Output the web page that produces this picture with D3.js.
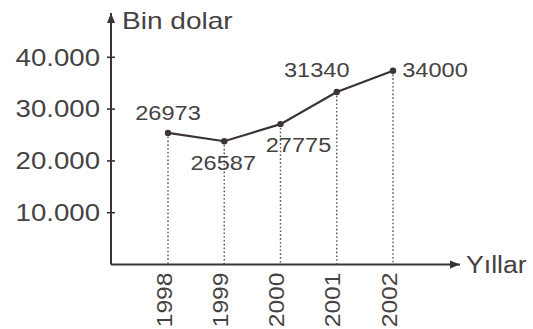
<!DOCTYPE html>
<html>
<head>
<meta charset="utf-8">
<script src="https://cdn.jsdelivr.net/npm/d3@7"></script>
<style>
  html, body { margin: 0; padding: 0; background: #fff; }
  svg { display: block; }
  text { font-family: "Liberation Sans", Arial, sans-serif; fill: #464243; }
</style>
</head>
<body>
<svg id="chart" width="533" height="329"></svg>
<script>
// Data
const years = [1998, 1999, 2000, 2001, 2002];
const printedValues = ["26973", "26587", "27775", "31340", "34000"];
const plottedValues = [25400, 23800, 27100, 33300, 37400];
const yTicks = [10000, 20000, 30000, 40000];
const yTickLabels = ["10.000", "20.000", "30.000", "40.000"];
const yTitle = "Bin dolar";
const xTitle = "Yıllar";

const svg = d3.select("#chart");
const ink = "#3b3337";

const x = d3.scaleLinear().domain([1998, 2002]).range([168, 393]);
const y = d3.scaleLinear().domain([0, 40000]).range([264.5, 57.3]);
const x0 = 111;

// Axes lines
svg.append("defs").append("marker")
  .attr("id", "arr").attr("viewBox", "0 0 10 10")
  .attr("refX", 10).attr("refY", 5)
  .attr("markerWidth", 10).attr("markerHeight", 10)
  .attr("markerUnits", "userSpaceOnUse")
  .attr("orient", "auto")
  .append("path").attr("d", "M0,1 L10,5 L0,9 Z").attr("fill", ink);

svg.append("line")
  .attr("x1", x0).attr("y1", y(0)).attr("x2", x0).attr("y2", 13)
  .attr("stroke", ink).attr("stroke-width", 2).attr("marker-end", "url(#arr)");
svg.append("line")
  .attr("x1", x0).attr("y1", y(0)).attr("x2", 460).attr("y2", y(0))
  .attr("stroke", ink).attr("stroke-width", 2).attr("marker-end", "url(#arr)");

// y ticks
yTicks.forEach((t, i) => {
  svg.append("line")
    .attr("x1", x0 - 4).attr("x2", x0 + 4)
    .attr("y1", y(t)).attr("y2", y(t))
    .attr("stroke", ink).attr("stroke-width", 1.6);
  svg.append("text")
    .attr("transform", `translate(${x0 - 11},${y(t)}) scale(1.2,1)`)
    .attr("text-anchor", "end").attr("dy", "0.36em")
    .attr("font-size", 23)
    .text(yTickLabels[i]);
});

// titles
svg.append("text")
  .attr("transform", `translate(122,29) scale(1.22,1)`)
  .attr("font-size", 23).text(yTitle);
svg.append("text")
  .attr("transform", `translate(466,${y(0) + 8}) scale(1.16,1)`)
  .attr("font-size", 23).text(xTitle);

// dotted drop lines
years.forEach((yr, i) => {
  svg.append("line")
    .attr("x1", x(yr)).attr("x2", x(yr))
    .attr("y1", y(plottedValues[i])).attr("y2", y(0))
    .attr("stroke", "#5a5457").attr("stroke-width", 1.4)
    .attr("stroke-dasharray", "1.6,2.2");
});

// data line
const pts = years.map((yr, i) => [yr, plottedValues[i]]);
svg.append("path")
  .datum(pts)
  .attr("fill", "none").attr("stroke", ink).attr("stroke-width", 2.2)
  .attr("d", d3.line().x(d => x(d[0])).y(d => y(d[1])));
svg.selectAll("circle.pt").data(pts).enter().append("circle")
  .attr("cx", d => x(d[0])).attr("cy", d => y(d[1]))
  .attr("r", 3.2).attr("fill", ink);

// year labels (rotated)
years.forEach(yr => {
  svg.append("text")
    .attr("transform", `translate(${x(yr) + 3.5},${y(0) + 8}) rotate(-90) scale(1.12,1)`)
    .attr("text-anchor", "end")
    .attr("font-size", 22)
    .text(yr);
});

// value labels: offsets relative to each point
const labelOffsets = [[0, -13], [-1, 29], [18, 28], [-20, -15], [42, 6]];
years.forEach((yr, i) => {
  svg.append("text")
    .attr("transform", `translate(${x(yr) + labelOffsets[i][0]},${y(plottedValues[i]) + labelOffsets[i][1]}) scale(1.15,1)`)
    .attr("text-anchor", "middle")
    .attr("font-size", 20.5)
    .text(printedValues[i]);
});
</script>
</body>
</html>
